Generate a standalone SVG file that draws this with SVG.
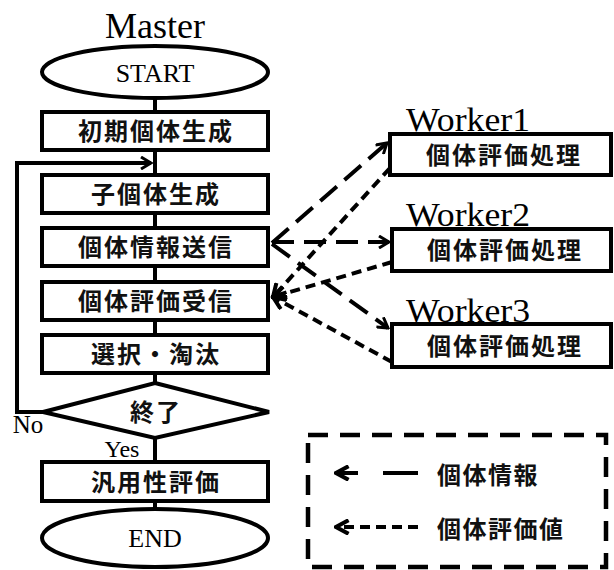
<svg xmlns="http://www.w3.org/2000/svg" width="614" height="570" viewBox="0 0 614 570">
<defs>
<style>
.bx{fill:#fff;stroke:#000;stroke-width:4}
.ln{fill:none;stroke:#000;stroke-width:4}
.lat{font-family:"Liberation Serif","DejaVu Serif",serif;fill:#000;text-anchor:middle}
.cjk{font-family:"Noto Sans CJK JP","Noto Sans CJK SC",sans-serif;font-weight:700;font-size:24px;letter-spacing:2px;fill:#111;text-anchor:middle}
.ld{fill:none;stroke:#000;stroke-width:4;stroke-dasharray:22 10}
.sd{fill:none;stroke:#000;stroke-width:4;stroke-dasharray:10 6}
</style>
<marker id="ah" viewBox="0 0 14 14" refX="12" refY="7" markerWidth="14" markerHeight="14" markerUnits="userSpaceOnUse" orient="auto">
<path d="M2,1 L12,7 L2,13" fill="none" stroke="#000" stroke-width="3"/>
</marker>
<marker id="ahf" viewBox="0 0 14 14" refX="12" refY="7" markerWidth="16" markerHeight="16" markerUnits="userSpaceOnUse" orient="auto">
<path d="M1,1 L12,7 L1,13" fill="none" stroke="#000" stroke-width="3.5"/>
</marker>
</defs>
<rect width="614" height="570" fill="#fff"/>
<text class="lat" x="155" y="38" font-size="36">Master</text>
<g id="connectors">
<line class="ln" x1="155" y1="98" x2="155" y2="112"/>
<line class="ln" x1="155" y1="150" x2="155" y2="175"/>
<line class="ln" x1="155" y1="213" x2="155" y2="228"/>
<line class="ln" x1="155" y1="266" x2="155" y2="282"/>
<line class="ln" x1="155" y1="320" x2="155" y2="335"/>
<line class="ln" x1="155" y1="373" x2="155" y2="383"/>
<line class="ln" x1="155" y1="438" x2="155" y2="462"/>
<line class="ln" x1="155" y1="501" x2="155" y2="508"/>
<path class="ln" d="M43,412 H17 V163 H151" marker-end="url(#ah)"/>
<line class="ld" x1="272" y1="243" x2="387" y2="143" marker-end="url(#ah)"/>
<line class="ld" x1="272" y1="242" x2="389" y2="242" marker-end="url(#ah)"/>
<line class="ld" x1="272" y1="244" x2="388" y2="328" marker-end="url(#ah)"/>
<line class="sd" x1="390" y1="168" x2="273" y2="297" marker-end="url(#ahf)"/>
<line class="sd" x1="392" y1="262" x2="273" y2="297" marker-end="url(#ahf)"/>
<line class="sd" x1="392" y1="362" x2="273" y2="297" marker-end="url(#ahf)"/>
</g>
<g id="start"><ellipse class="bx" cx="155" cy="72" rx="113" ry="26"/><text class="lat" x="155" y="82" font-size="26">START</text></g>
<g id="init"><rect class="bx" x="42" y="112" width="226" height="38"/><text class="cjk" x="156" y="140">初期個体生成</text></g>
<g id="child"><rect class="bx" x="42" y="175" width="226" height="38"/><text class="cjk" x="156" y="203">子個体生成</text></g>
<g id="send"><rect class="bx" x="42" y="228" width="226" height="38"/><text class="cjk" x="156" y="256">個体情報送信</text></g>
<g id="recv"><rect class="bx" x="42" y="282" width="226" height="38"/><text class="cjk" x="156" y="310">個体評価受信</text></g>
<g id="select"><rect class="bx" x="42" y="335" width="226" height="38"/><text class="cjk" x="156" y="363">選択・淘汰</text></g>
<g id="end-check"><polygon class="bx" points="155,383 269,412 155,438 43,412"/><text class="cjk" x="156" y="421">終了</text></g>
<text class="lat" x="28" y="433" font-size="25">No</text>
<text class="lat" x="122" y="457" font-size="24">Yes</text>
<g id="general"><rect class="bx" x="42" y="462" width="226" height="39"/><text class="cjk" x="156" y="491">汎用性評価</text></g>
<g id="end"><ellipse class="bx" cx="155" cy="538" rx="113" ry="29"/><text class="lat" x="155" y="547" font-size="26">END</text></g>
<g id="worker1"><text class="lat" x="468" y="131" font-size="33" textLength="124" lengthAdjust="spacingAndGlyphs">Worker1</text><rect class="bx" x="390" y="134" width="221" height="41"/><text class="cjk" x="504" y="164" font-size="25">個体評価処理</text></g>
<g id="worker2"><text class="lat" x="468" y="226" font-size="33" textLength="124" lengthAdjust="spacingAndGlyphs">Worker2</text><rect class="bx" x="392" y="229" width="219" height="42"/><text class="cjk" x="505" y="259" font-size="25">個体評価処理</text></g>
<g id="worker3"><text class="lat" x="468" y="322" font-size="33" textLength="124" lengthAdjust="spacingAndGlyphs">Worker3</text><rect class="bx" x="392" y="324" width="219" height="43"/><text class="cjk" x="505" y="355" font-size="25">個体評価処理</text></g>
<g id="legend">
<rect x="308" y="435" width="298" height="132" fill="none" stroke="#000" stroke-width="4.5" stroke-dasharray="20 12"/>
<line x1="418" y1="473" x2="336" y2="473" stroke="#000" stroke-width="4" stroke-dasharray="35 25" marker-end="url(#ahf)"/>
<line x1="418" y1="527" x2="336" y2="527" stroke="#000" stroke-width="4" stroke-dasharray="10 6" marker-end="url(#ahf)"/>
<text class="cjk" x="437" y="484" font-size="27" style="text-anchor:start;letter-spacing:1.5px">個体情報</text>
<text class="cjk" x="437" y="538" font-size="27" style="text-anchor:start;letter-spacing:1.5px">個体評価値</text>
</g>
</svg>
